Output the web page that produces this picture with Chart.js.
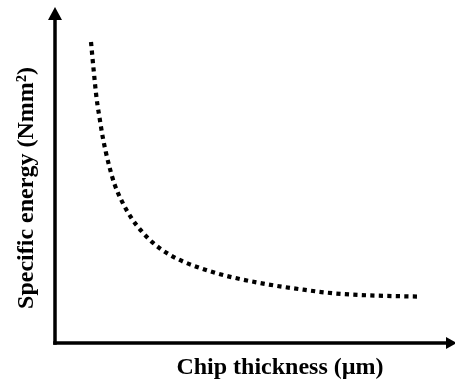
<!DOCTYPE html>
<html>
<head>
<meta charset="utf-8">
<script src="https://cdn.jsdelivr.net/npm/chart.js@4/dist/chart.umd.min.js"></script>
<style>
  html, body { margin: 0; padding: 0; background: #fff; }
  #wrap { width: 455px; height: 387px; position: relative; }
</style>
</head>
<body>
<div id="wrap"><canvas id="c" width="455" height="387"></canvas></div>
<script>
// Chip thickness (relative units) and the matching specific energy (relative units)
const chipThickness = [0.90, 0.96, 1.04, 1.125, 1.19, 1.275, 1.37, 1.49, 1.68, 1.91, 2.17, 2.46, 2.82, 3.21, 3.61, 4.03, 4.45, 5.29, 6.13, 6.95, 7.79, 9.15];
const specificEnergy = [8.96, 8.20, 7.28, 6.62, 6.15, 5.66, 5.20, 4.72, 4.20, 3.72, 3.32, 2.97, 2.66, 2.42, 2.24, 2.08, 1.95, 1.75, 1.60, 1.48, 1.42, 1.38];

const xTitle = 'Chip thickness (µm)';
const yTitle = 'Specific energy (Nmm²)';

const points = chipThickness.map((x, i) => ({ x, y: specificEnergy[i] }));

// Draws the two arrowed axes and their titles
const arrowAxes = {
  id: 'arrowAxes',
  afterDraw(chart) {
    const ctx = chart.ctx;
    const a = chart.chartArea;
    ctx.save();
    ctx.strokeStyle = '#000';
    ctx.fillStyle = '#000';
    ctx.lineWidth = 3.5;
    ctx.lineCap = 'butt';

    // vertical axis
    ctx.beginPath();
    ctx.moveTo(a.left, a.bottom + 1.75);
    ctx.lineTo(a.left, a.top + 10);
    ctx.stroke();
    ctx.beginPath();
    ctx.moveTo(a.left, a.top);
    ctx.lineTo(a.left - 7, a.top + 13);
    ctx.lineTo(a.left + 7, a.top + 13);
    ctx.closePath();
    ctx.fill();

    // horizontal axis
    ctx.beginPath();
    ctx.moveTo(a.left - 1.75, a.bottom);
    ctx.lineTo(a.right - 6, a.bottom);
    ctx.stroke();
    ctx.beginPath();
    ctx.moveTo(a.right + 2, a.bottom);
    ctx.lineTo(a.right - 9, a.bottom - 6);
    ctx.lineTo(a.right - 9, a.bottom + 6);
    ctx.closePath();
    ctx.fill();

    // titles
    ctx.font = 'bold 24px "Liberation Serif", "Times New Roman", serif';
    ctx.textAlign = 'center';
    ctx.textBaseline = 'alphabetic';
    ctx.fillText(xTitle, 280, 374);

    ctx.translate(33, 188);
    ctx.rotate(-Math.PI / 2);
    ctx.fillText(yTitle, 0, 0);
    ctx.restore();
  }
};

new Chart(document.getElementById('c'), {
  type: 'line',
  data: {
    datasets: [{
      data: points,
      borderColor: '#000',
      borderWidth: 4.2,
      borderDash: [4.2, 4.3],
      borderCapStyle: 'butt',
      cubicInterpolationMode: 'monotone',
      pointRadius: 0,
      fill: false
    }]
  },
  options: {
    responsive: false,
    animation: false,
    layout: { padding: { left: 55, right: 0, top: 7, bottom: 44 } },
    plugins: { legend: { display: false }, tooltip: { enabled: false } },
    scales: {
      x: { type: 'linear', min: 0, max: 10, display: false },
      y: { type: 'linear', min: 0, max: 10, display: false }
    }
  },
  plugins: [arrowAxes]
});
</script>
</body>
</html>
